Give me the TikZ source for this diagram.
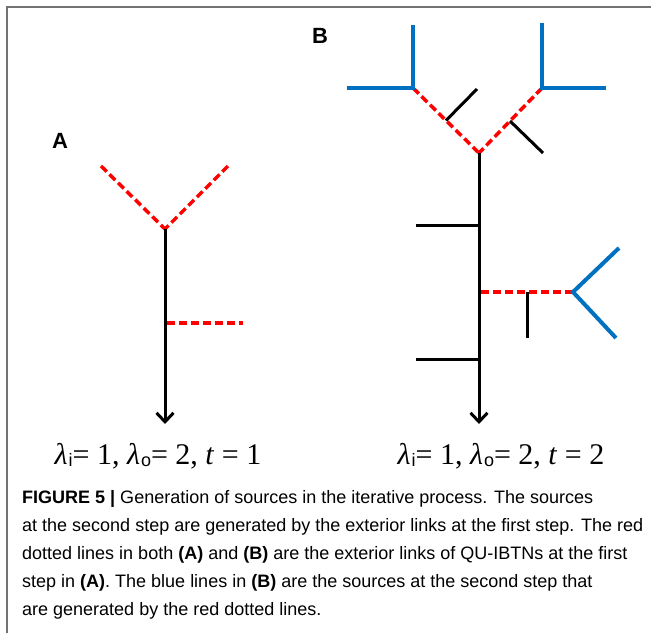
\documentclass[tikz,border=0pt]{standalone}
\usepackage{fontspec}
\setmainfont{Liberation Sans}
\newfontfamily\timesfont{Liberation Serif}
\newfontfamily\subfont{Liberation Sans}
\usetikzlibrary{arrows.meta}
\definecolor{linkred}{RGB}{255,0,0}
\definecolor{srcblue}{RGB}{0,112,192}
\definecolor{framegray}{RGB}{115,115,115}
\newcommand{\lamsub}[1]{\textit{λ}\kern1pt\lower2.5pt\hbox{\subfont\fontsize{18}{18}\selectfont #1}}
\begin{document}
\begin{tikzpicture}[x=1pt,y=-1pt,
  ext/.style={draw=linkred,line width=3.5pt,dash pattern=on 8pt off 4pt},
  src/.style={draw=srcblue,line width=4pt},
  lnk/.style={draw=black,line width=3pt},
  sink/.style={lnk,-{Straight Barb[length=9pt,width=17pt,line width=3pt]}},
  panel/.style={font=\fontsize{22}{22}\selectfont\bfseries},
  result/.style={anchor=base,font=\fontsize{30}{30}\timesfont},
  capline/.style={anchor=base west,inner sep=0pt,font=\fontsize{18}{18}\selectfont}]
\useasboundingbox (0,0) rectangle (651,633);
\draw[framegray,line width=1.5pt] (7,633)--(7,7)--(651,7);
\node[panel] (labA) at (60,141){A};
\node[panel] (labB) at (320,36){B};
\coordinate (a0) at (165,229);
\coordinate (a1) at (101,166);
\coordinate (a2) at (228,166);
\coordinate (a3) at (165,323);
\coordinate (a4) at (243,323);
\coordinate (a5) at (165,424);
\draw[ext](a1)--(a0);
\draw[ext](a2)--(a0);
\draw[sink](a0)--(a5);
\draw[ext]([xshift=2pt]a3)--(a4);
\coordinate (b0) at (479,153);
\coordinate (b1) at (413,88);
\coordinate (b2) at (542,88);
\coordinate (b1u) at (413,25);
\coordinate (b1l) at (347,88);
\coordinate (b2u) at (542,23);
\coordinate (b2r) at (606,88);
\coordinate (b3) at (446,120.5);
\coordinate (b3e) at (477,89);
\coordinate (b4) at (510,121);
\coordinate (b4e) at (543,153);
\coordinate (b5) at (479,424);
\coordinate (b6) at (479,225);
\coordinate (b6e) at (416,225);
\coordinate (b7) at (479,359);
\coordinate (b7e) at (416,359);
\coordinate (b8) at (479,292);
\coordinate (b9) at (573,292);
\coordinate (b10) at (527,292);
\coordinate (b10e) at (527,338);
\coordinate (b11) at (619,248);
\coordinate (b12) at (616,338);
\draw[ext](b1)--(b0);
\draw[ext](b2)--(b0);
\draw[src](b1u)--(b1)--(b1l);
\draw[src](b2u)--(b2)--(b2r);
\draw[lnk](b3)--(b3e);
\draw[lnk](b4)--(b4e);
\draw[sink](b0)--(b5);
\draw[lnk](b6)--(b6e);
\draw[lnk](b7)--(b7e);
\draw[ext]([xshift=1.5pt]b8)--(b9);
\draw[lnk](b10)--(b10e);
\draw[src](b11)--(b9)--(b12);
\node[result] (resA) at (158,464){\lamsub{i}= 1, \lamsub{o}= 2, \textit{t} = 1};
\node[result] (resB) at (501,464){\lamsub{i}= 1, \lamsub{o}= 2, \textit{t} = 2};
\node[capline] (cap1) at (22,503){\textbf{FIGURE 5 |} Generation of sources in the iterative process. The sources};
\node[capline] (cap2) at (22,531){at the second step are generated by the exterior links at the first step. The red};
\node[capline] (cap3) at (22,559){dotted lines in both \textbf{(A)} and \textbf{(B)} are the exterior links of QU-IBTNs at the first};
\node[capline] (cap4) at (22,587){step in \textbf{(A)}. The blue lines in \textbf{(B)} are the sources at the second step that};
\node[capline] (cap5) at (22,615){are generated by the red dotted lines.};
\end{tikzpicture}
\end{document}
